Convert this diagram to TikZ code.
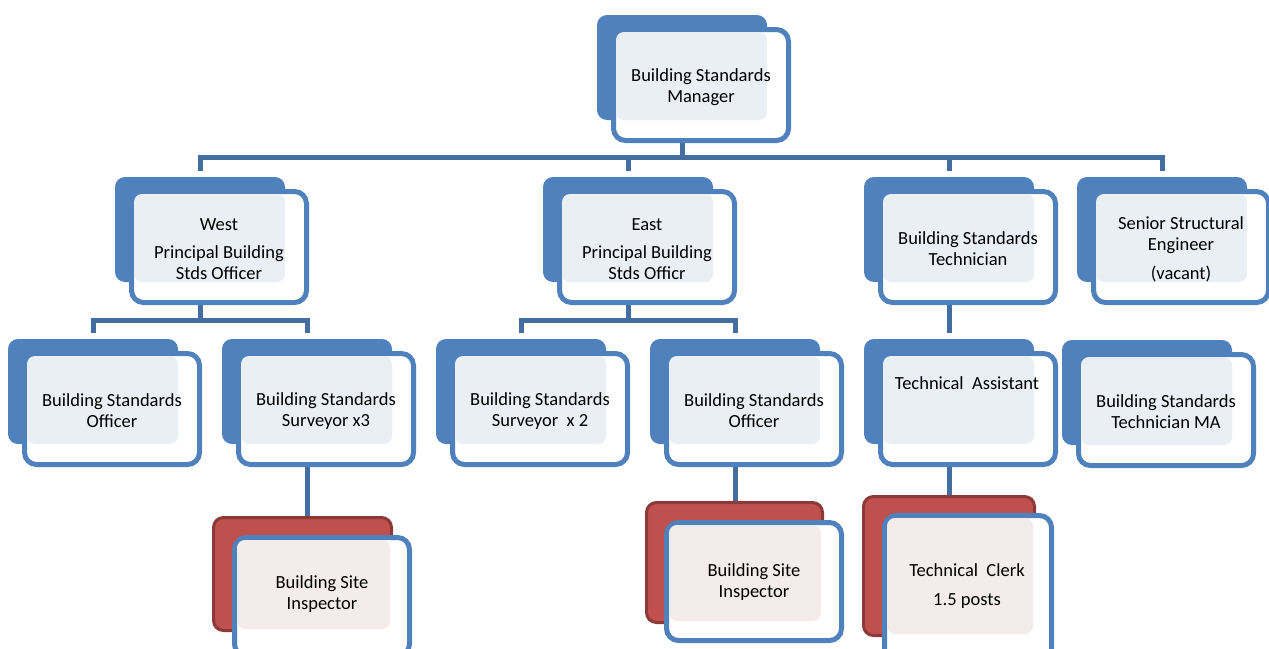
\documentclass[tikz,border=0pt]{standalone}
\usepackage{fontspec}
\setmainfont{Carlito}
\usetikzlibrary{fit,calc}
\pgfdeclarelayer{bg}
\pgfsetlayers{bg,main}
\definecolor{bblue}{RGB}{79,129,189}
\definecolor{cblue}{RGB}{68,110,162}
\definecolor{bpan}{RGB}{234,239,246}
\definecolor{rred}{RGB}{192,80,77}
\definecolor{rdark}{RGB}{140,58,56}
\definecolor{rpan}{RGB}{244,235,235}
\tikzset{
  bback/.style={fill=bblue, draw=none, rounded corners=10pt, inner sep=0pt, outer sep=0pt},
  rback/.style={fill=rred, draw=rdark, line width=3pt, rounded corners=10pt, inner sep=0pt, outer sep=0pt},
  framebox/.style={draw=bblue, fill=white, line width=5pt, rounded corners=12pt, inner sep=0pt, outer sep=0pt},
  bpanel/.style={fill=bpan, draw=none, rounded corners=8pt, inner sep=0pt, outer sep=0pt},
  rpanel/.style={fill=rpan, draw=none, rounded corners=8pt, inner sep=0pt, outer sep=0pt},
  txt/.style={align=center, font=\fontsize{18.5}{21}\selectfont, inner sep=0pt, text=black, yshift=-2pt},
  conn/.style={draw=cblue, line width=5pt, line join=miter},
}
% #1 name, #2 back x, #3 back y, #4 text
\newcommand\orgbox[4]{%
  \node[bback, fit={(#2,#3)(#2+170,#3+105)}] (#1-b) {};
  \node[framebox, fit={(#2+16.5,#3+14.5)(#2+191.5,#3+125.5)}] (#1) {};
  \node[bpanel, fit={(#2+19,#3+17)(#2+170,#3+105)}] (#1-p) {};
  \node[txt] (#1-t) at (#1.center) {#4};
}
\begin{document}
\begin{tikzpicture}[x=1pt,y=-1pt]
\useasboundingbox (0,0) rectangle (1269,648);
\begin{pgfonlayer}{bg}
  \fill[white] (0,0) rectangle (1269,648);
\end{pgfonlayer}

% level 1
\orgbox{mgr}{597}{15}{Building Standards\\Manager}

% level 2
\orgbox{west}{115}{177}{West\\[7pt]Principal Building\\Stds Officer}
\orgbox{east}{543}{177}{East\\[7pt]Principal Building\\Stds Officr}
\orgbox{tech}{864}{177}{Building Standards\\Technician}
\orgbox{sse}{1077}{177}{Senior Structural\\Engineer\\[8pt](vacant)}

% level 3
\orgbox{bsow}{8}{339}{Building Standards\\Officer}
\orgbox{sur3}{222}{339}{Building Standards\\Surveyor x3}
\orgbox{sur2}{436}{339}{Building Standards\\Surveyor\ \ x 2}
\orgbox{bsoe}{650}{339}{Building Standards\\Officer}
% technical assistant (text near the top)
\node[bback, fit={(864,339)(1034,444)}] (ta-b) {};
\node[framebox, fit={(880.5,353.5)(1055.5,464.5)}] (ta) {};
\node[bpanel, fit={(883,356)(1034,444)}] (ta-p) {};
\node[txt] (ta-t) at (967,381) {Technical\ \ Assistant};
\orgbox{bstma}{1062}{340}{Building Standards\\Technician MA}

% level 4 (red)
\node[rback, fit={(213.5,517.5)(391.5,630.5)}] (bsiw-b) {};
\node[framebox, fit={(234.5,537.5)(409.5,656)}] (bsiw) {};
\node[rpanel, fit={(237,540)(390,629)}] (bsiw-p) {};
\node[txt] (bsiw-t) at (322,592.5) {Building Site\\Inspector};

\node[rback, fit={(646.5,502.5)(822.5,622.5)}] (bsie-b) {};
\node[framebox, fit={(666.5,522.5)(841.5,640.5)}] (bsie) {};
\node[rpanel, fit={(669,525)(821,621)}] (bsie-p) {};
\node[txt] (bsie-t) at (754,580.5) {Building Site\\Inspector};

\node[rback, fit={(863.5,496.5)(1034.5,635.5)}] (tc-b) {};
\node[framebox, fit={(884.5,515.5)(1051.5,662)}] (tc) {};
\node[rpanel, fit={(887,518)(1033,634)}] (tc-p) {};
\node[txt] (tc-t) at (967,584.5) {Technical\ \ Clerk\\[8pt]1.5 posts};

% connectors
\coordinate (j0) at (680,157.5);
\coordinate (j1) at (0,320.5);
\begin{pgfonlayer}{bg}
  \draw[conn] (mgr-b.center) -- (mgr-b.center |- j0);
  \draw[conn, shorten <=6pt, shorten >=6pt]
    (west-b.north) -- (west-b.north |- j0) -- (sse-b.north |- j0) -- (sse-b.north);
  \draw[conn, shorten >=6pt] (east-b.north |- j0) -- (east-b.north);
  \draw[conn, shorten >=6pt] (tech-b.north |- j0) -- (tech-b.north);

  \draw[conn] (west-b.center) -- (west-b.center |- j1);
  \draw[conn, shorten <=6pt, shorten >=6pt]
    (bsow-b.north) -- (bsow-b.north |- j1) -- (sur3-b.north |- j1) -- (sur3-b.north);
  \draw[conn] (east-b.center) -- (east-b.center |- j1);
  \draw[conn, shorten <=6pt, shorten >=6pt]
    (sur2-b.north) -- (sur2-b.north |- j1) -- (bsoe-b.north |- j1) -- (bsoe-b.north);

  \draw[conn, shorten >=6pt] (tech-b.center) -- (ta-b.north);

  \draw[conn] (sur3-b.center) -- (sur3-b.center |- bsiw-b.north);
  \draw[conn] (bsoe-b.center) -- (bsoe-b.center |- bsie-b.north);
  \draw[conn] (ta-b.center) -- (ta-b.center |- tc-b.north);
\end{pgfonlayer}
\end{tikzpicture}
\end{document}
